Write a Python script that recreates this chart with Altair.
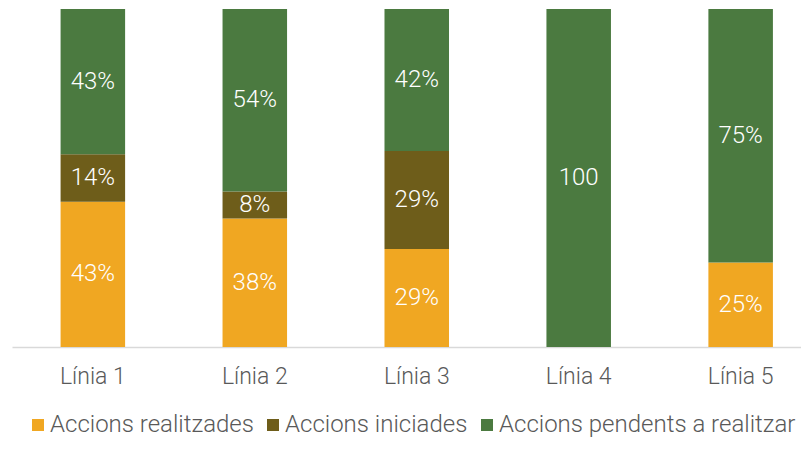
import altair as alt
import pandas as pd

categories = ["Línia 1", "Línia 2", "Línia 3", "Línia 4", "Línia 5"]
series = ["Accions realitzades", "Accions iniciades", "Accions pendents a realitzar"]
realitzades = [43, 38, 29, 0, 25]
iniciades = [14, 8, 29, 0, 0]
pendents = [43, 54, 42, 100, 75]
labels_realitzades = ["43%", "38%", "29%", "", "25%"]
labels_iniciades = ["14%", "8%", "29%", "", ""]
labels_pendents = ["43%", "54%", "42%", "100", "75%"]
colors = ["#F0A722", "#6E5D1A", "#4B7A40"]

rows = []
for si, (name, vals, labs) in enumerate(zip(series,
                                             [realitzades, iniciades, pendents],
                                             [labels_realitzades, labels_iniciades, labels_pendents])):
    for c, v, l in zip(categories, vals, labs):
        rows.append({"cat": c, "series": name, "order": si, "value": v, "label": l})
df = pd.DataFrame(rows)

base = alt.Chart(df).transform_stack(
    stack="value", groupby=["cat"], sort=[alt.SortField("order")], as_=["y0", "y1"]
).transform_calculate(ymid="(datum.y0 + datum.y1) / 2")

xscale = alt.Scale(range=[0, 809.5], paddingInner=0.6016, paddingOuter=0.3)
yscale = alt.Scale(domain=[0, 100], nice=False)

x = alt.X("cat:N", sort=categories, scale=xscale,
          axis=alt.Axis(title=None, ticks=False, labelAngle=0, labelPadding=18,
                        labelFontSize=23, labelColor="#595959", labelFont="Roboto",
                        labelFontWeight=300,
                        domainColor="#D9D9D9", domainWidth=1.5, grid=False))

bars = base.mark_bar().encode(
    x=x,
    y=alt.Y("y0:Q", scale=yscale, axis=None),
    y2="y1:Q",
    color=alt.Color("series:N", scale=alt.Scale(domain=series, range=colors),
                    legend=alt.Legend(orient="none", legendX=14, legendY=404,
                                      direction="horizontal", columns=3, title=None,
                                      symbolType="square", symbolSize=144,
                                      symbolStrokeWidth=0, labelFontSize=24,
                                      labelColor="#595959", labelFont="Roboto",
                                      labelFontWeight=300,
                                      labelLimit=400, columnPadding=7, labelOffset=0,
                                      padding=0)),
)

text = base.transform_filter("datum.value > 0").mark_text(
    color="white", fontSize=24, font="Roboto", fontWeight=300
).encode(
    x=alt.X("cat:N", sort=categories),
    y=alt.Y("ymid:Q", scale=yscale),
    text="label:N",
)

chart = alt.layer(bars, text).properties(
    width=789, height=338,
    autosize=alt.AutoSizeParams(type="none"),
    padding={"left": 4, "top": 1, "right": 0, "bottom": 91},
).configure_view(stroke=None)

chart.save("out.html", embed_options={"renderer": "svg", "actions": False})
